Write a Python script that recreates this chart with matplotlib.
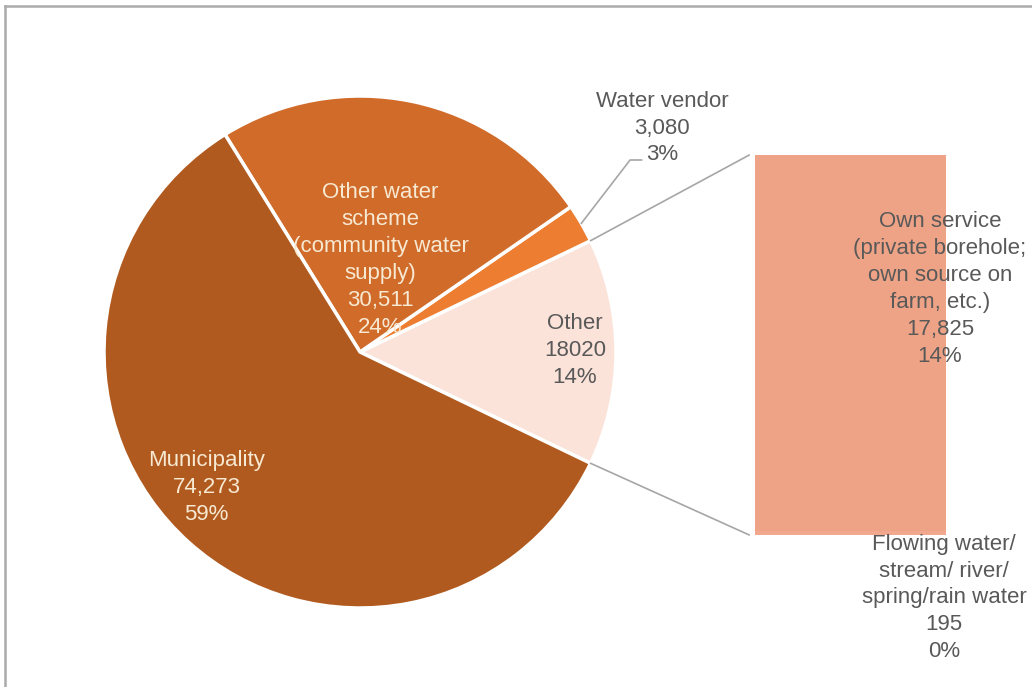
import matplotlib.pyplot as plt
from matplotlib.patches import ConnectionPatch
from matplotlib.lines import Line2D
import numpy as np

plt.rcParams['font.family'] = ['Liberation Sans', 'DejaVu Sans']

# Main pie (counter-clockwise from the "Other" wedge)
pie_labels = ['Other', 'Water vendor', 'Other water\nscheme\n(community water\nsupply)', 'Municipality']
pie_values = [18020, 3080, 30511, 74273]
pie_value_text = ['18020', '3,080', '30,511', '74,273']
pie_pcts = ['14%', '3%', '24%', '59%']
pie_colors = ['#FBE3DA', '#ED7D31', '#D06B2A', '#B05A1F']

# Breakdown of "Other"
bar_labels = ['Flowing water/\nstream/ river/\nspring/rain water', 'Own service\n(private borehole;\nown source on\nfarm, etc.)']
bar_values = [195, 17825]
bar_value_text = ['195', '17,825']
bar_pcts = ['0%', '14%']
bar_colors = ['#F2A88E', '#EFA386']

W, H = 1032, 687
fig = plt.figure(figsize=(W / 100, H / 100), dpi=100)

# pie axes: centre (360, 352) px, radius 256 px
cx, cy, r = 360, 352, 256
ax = fig.add_axes([(cx - r) / W, (H - cy - r) / H, 2 * r / W, 2 * r / H])
start = -pie_values[0] / sum(pie_values) * 360 / 2
wedges, _ = ax.pie(pie_values, colors=pie_colors, startangle=start, counterclock=True,
                   radius=1, wedgeprops=dict(edgecolor='white', linewidth=2.5))
ax.set_xlim(-1, 1)
ax.set_ylim(-1, 1)
ax.set_aspect('equal')
ax.axis('off')

cream = '#F7E9D2'
grey = '#595959'
fs = 16
ls = 1.37
ax.text(0.84, 0.005, f'{pie_labels[0]}\n{pie_value_text[0]}\n{pie_pcts[0]}', ha='center', va='center',
        fontsize=fs, color=grey, linespacing=ls)
ax.text(0.08, 0.36, f'{pie_labels[2]}\n{pie_value_text[2]}\n{pie_pcts[2]}', ha='center', va='center',
        fontsize=fs, color=cream, linespacing=ls)
ax.text(-0.6, -0.53, f'{pie_labels[3]}\n{pie_value_text[3]}\n{pie_pcts[3]}', ha='center', va='center',
        fontsize=fs, color=cream, linespacing=ls)

# water vendor label with leader line
wv = wedges[1]
mid = np.deg2rad((wv.theta1 + wv.theta2) / 2)
ax.text(1.18, 0.875, f'{pie_labels[1]}\n{pie_value_text[1]}\n{pie_pcts[1]}', ha='center', va='center',
        fontsize=fs, color=grey, linespacing=ls)
ax.plot([np.cos(mid) * 1.0, 1.055, 1.10], [np.sin(mid) * 1.0, 0.75, 0.75],
        color='#A6A6A6', lw=1.2, clip_on=False)

# bar of the "Other" breakdown
bx = fig.add_axes([755 / W, (H - 535) / H, 191 / W, 380 / H])
bottom = 0
for v, c in zip(bar_values, bar_colors):
    bx.bar(0, v, width=1, bottom=bottom, color=c, edgecolor='none')
    bottom += v
bx.set_xlim(-0.5, 0.5)
bx.set_ylim(0, sum(bar_values))
bx.axis('off')

fig.text(940 / W, 1 - 289 / H, f'{bar_labels[1]}\n{bar_value_text[1]}\n{bar_pcts[1]}', ha='center',
         va='center', fontsize=fs, color=grey, linespacing=ls)
fig.text(944 / W, 1 - 598 / H, f'{bar_labels[0]}\n{bar_value_text[0]}\n{bar_pcts[0]}', ha='center',
         va='center', fontsize=fs, color=grey, linespacing=ls)

# connectors from the "Other" wedge edges to the bar
other = wedges[0]
for ang, ybar in [(other.theta2, sum(bar_values)), (other.theta1, 0)]:
    a = np.deg2rad(ang)
    con = ConnectionPatch(xyA=(np.cos(a), np.sin(a)), coordsA=ax.transData,
                          xyB=(-0.53, ybar), coordsB=bx.transData,
                          color='#A6A6A6', lw=1.2)
    fig.add_artist(con)

# chart frame
fig.add_artist(Line2D([5 / W, 1], [1 - 6 / H, 1 - 6 / H], transform=fig.transFigure, color='#ABABAB', lw=1.8))
fig.add_artist(Line2D([5 / W, 5 / W], [0, 1 - 6 / H], transform=fig.transFigure, color='#ABABAB', lw=1.8))

fig.savefig('out.png', dpi=100, facecolor='white')
